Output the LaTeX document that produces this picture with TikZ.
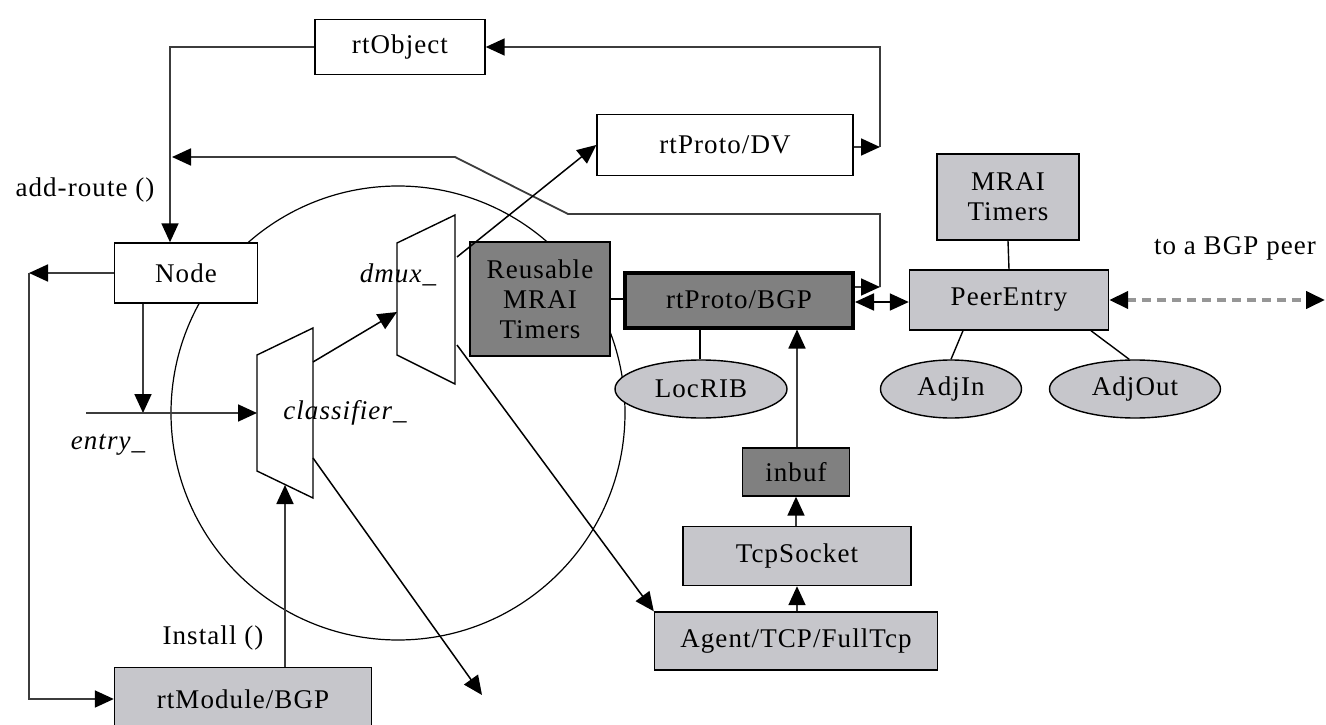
\documentclass[tikz,border=0pt]{standalone}
\usepackage{fontspec}
\setmainfont{Liberation Serif}[LetterSpace=4]
\usetikzlibrary{arrows.meta,shapes.geometric}
\definecolor{lightbox}{RGB}{198,198,203}
\definecolor{darkbox}{RGB}{128,128,128}
\definecolor{linecol}{RGB}{60,60,60}
\definecolor{dashcol}{RGB}{150,150,150}
\tikzset{
  box/.style={draw=black, line width=1.4pt, fill=white, inner sep=0pt, align=center},
  lbox/.style={box, fill=lightbox},
  dbox/.style={box, fill=darkbox},
  oval/.style={ellipse, draw=black, line width=1.4pt, fill=lightbox, inner sep=0pt},
  conn/.style={draw=linecol, line width=1.8pt, -{Triangle[length=19pt,width=17pt,color=black]}},
  dualconn/.style={draw=black, line width=1.8pt, {Triangle[length=19pt,width=17pt]}-{Triangle[length=19pt,width=17pt]}},
  plainline/.style={draw=black, line width=1.4pt},
  lab/.style={inner sep=0pt},
  trap/.style={draw=black, line width=1.4pt, fill=white},
}
\begin{document}
\begin{tikzpicture}[x=1pt,y=-1pt,font=\fontsize{27}{30}\selectfont]
\useasboundingbox (0,0) rectangle (1326,725);
% big circle
\draw[line width=1.2pt] (398,413) circle[radius=227pt];

% trapezoids
\draw[trap] (257,355) coordinate (clTL) -- (313,328) coordinate (clTR) -- (313,498) coordinate (clBR) -- (257,471) coordinate (clBL) -- cycle;
\draw[trap] (397,243) coordinate (dmTL) -- (455,215) coordinate (dmTR) -- (455,384) coordinate (dmBR) -- (397,355) coordinate (dmBL) -- cycle;

% nodes
\node[box, minimum width=170pt, minimum height=55pt] (rtobj) at (400,47) {rtObject};
\node[box, minimum width=256pt, minimum height=61pt] (dv) at (725,145) {rtProto/DV};
\node[box, minimum width=143pt, minimum height=60pt] (node) at (186,273) {Node};
\node[dbox, minimum width=140pt, minimum height=114pt] (reuse) at (540,299) {Reusable\\MRAI\\Timers};
\node[dbox, line width=4pt, minimum width=228pt, minimum height=55pt] (bgp) at (739,300) {rtProto/BGP};
\node[lbox, minimum width=142pt, minimum height=86pt] (mrai) at (1008,197) {MRAI\\Timers};
\node[lbox, minimum width=199pt, minimum height=60pt] (peer) at (1009,300) {PeerEntry};
\node[oval, minimum width=172pt, minimum height=58pt] (locrib) at (701,389) {LocRIB};
\node[oval, minimum width=141pt, minimum height=58pt] (adjin) at (951,389) {AdjIn};
\node[oval, minimum width=171pt, minimum height=58pt] (adjout) at (1135,389) {AdjOut};
\node[dbox, minimum width=107pt, minimum height=48pt] (inbuf) at (796,472) {inbuf};
\node[lbox, minimum width=228pt, minimum height=59pt] (tcp) at (797,556) {TcpSocket};
\node[lbox, minimum width=283pt, minimum height=58pt] (agent) at (796,641) {Agent/TCP/FullTcp};
\node[lbox, minimum width=257pt, minimum height=63pt] (rtmod) at (243,699) {rtModule/BGP};

% labels
\node[lab] (laddr) at (85,190) {add-route ()};
\node[lab, font=\fontsize{27}{30}\selectfont\itshape] (ldmux) at (398,275) {dmux\_};
\node[lab, font=\fontsize{27}{30}\selectfont\itshape] (lcls) at (345,413) {classifier\_};
\node[lab, font=\fontsize{27}{30}\selectfont\itshape] (lentry) at (108,445) {entry\_};
\node[lab] (linst) at (213,638) {Install ()};
\node[lab] (lpeer) at (1235,248) {to a BGP peer};

% coordinates
\coordinate (ctop) at (170,47);
\coordinate (cright) at (880,147);
\coordinate (cb) at (880,287);
\coordinate (cb2) at (880,214);
\coordinate (cb3) at (568,214);
\coordinate (cb4) at (455,157);
\coordinate (cb5) at (172,157);
\coordinate (cleft) at (29,273);
\coordinate (centry0) at (86,413);
\coordinate (centry1) at (143,413);
\coordinate (cout) at (482,695);
\coordinate (cpeer) at (1325,300);

% connectors
\draw[conn] (rtobj.west) -- (ctop) -- (ctop |- node.north);
\draw[conn] (dv.east |- cright) -- (cright);
\draw[conn] (cright) |- (rtobj.east);
\draw[conn] (bgp.east |- cb) -- (cb);
\draw[conn] (cb) -- (cb2) -- (cb3) -- (cb4) -- (cb5);
\draw[conn] (node.west) -- (cleft);
\draw[conn] (cleft) |- (rtmod.west);
\draw[conn] (node.south -| centry1) -- (centry1);
\draw[conn] (centry0) -- (clTL |- centry0);
\draw[conn] (rtmod.north -| 285,0) -- (285,485);
\draw[conn, draw=black, line width=1.5pt] (313,362) -- (397,312);
\draw[conn, draw=black, line width=1.5pt] (457,257) -- (dv.west);
\draw[conn, draw=black, line width=1.5pt] (313,458) -- (cout);
\draw[conn, draw=black, line width=1.5pt] (457,345) -- (agent.north west);
\draw[plainline] (reuse.east |- 0,299) -- (bgp.west |- 0,299);
\draw[dualconn] (bgp.east |- 0,302) -- (peer.west |- 0,302);
\draw[plainline] (locrib.north -| 700,0) -- (bgp.south -| 700,0);
\draw[conn] (inbuf.north -| 797,0) -- (bgp.south -| 797,0);
\draw[conn] (tcp.north -| 796,0) -- (inbuf.south -| 796,0);
\draw[conn] (agent.north -| 797,0) -- (tcp.south -| 797,0);
\draw[plainline] (mrai.south) -- (peer.north);
\draw[plainline] (peer.south -| 963,0) -- (adjin.north);
\draw[plainline] (peer.south -| 1091,0) -- (adjout.101);
\draw[draw=dashcol, line width=4pt, dash pattern=on 9pt off 6pt, {Triangle[length=19pt,width=17pt,color=black]}-{Triangle[length=19pt,width=17pt,color=black]}] (peer.east) -- (cpeer);
\end{tikzpicture}
\end{document}
